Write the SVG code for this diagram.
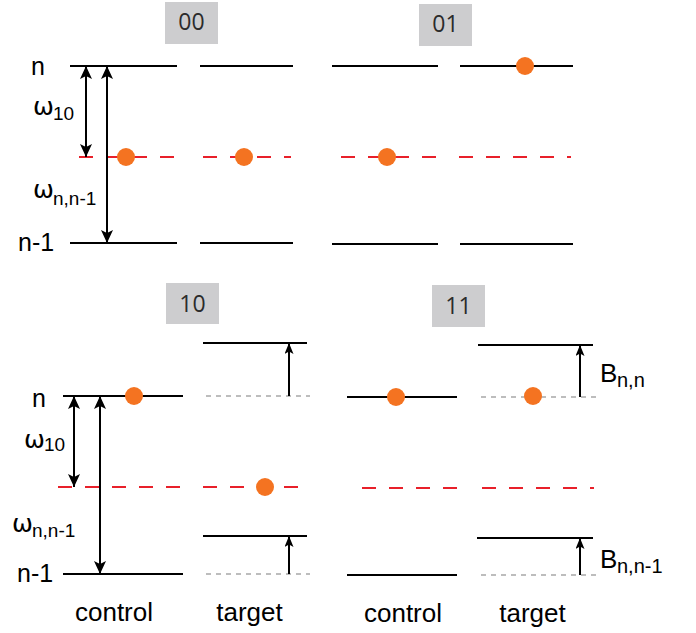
<svg xmlns="http://www.w3.org/2000/svg" width="696" height="633" viewBox="0 0 696 633">
<style>
.lvl{stroke:#000;stroke-width:2;fill:none}
.red{stroke:#e8202a;stroke-width:2;stroke-dasharray:14 13;fill:none}
.gray{stroke:#a8a8a8;stroke-width:1.5;stroke-dasharray:5 5;fill:none}
.dot{fill:#f47321}
.box{fill:#cdcdcf}
.boxt{font-family:"Open Sans","Liberation Sans",sans-serif;font-size:23px;fill:#2b2b2b;text-anchor:middle}
.lab{font-family:"Liberation Sans",Arial,sans-serif;font-size:25px;fill:#000}
.cap{font-family:"Liberation Sans",Arial,sans-serif;font-size:26px;fill:#000;text-anchor:middle}
.om{font-family:"DejaVu Sans","Liberation Sans",sans-serif;font-size:25px;fill:#000}
.sub{font-family:"Liberation Sans",Arial,sans-serif;font-size:19px;fill:#000}
.bsub{font-family:"Liberation Sans",Arial,sans-serif;font-size:20px;fill:#000}
.arr{stroke:#000;stroke-width:2;fill:none;marker-start:url(#ah);marker-end:url(#ah)}
.arr1{stroke:#000;stroke-width:2;fill:none;marker-end:url(#ahs)}
</style>
<defs>
<marker id="ah" viewBox="0 0 13 12" refX="13" refY="6" markerWidth="13" markerHeight="12" markerUnits="userSpaceOnUse" orient="auto-start-reverse">
<path d="M0,0 L13,6 L0,12 L3,6 z" fill="#000"/>
</marker>
<marker id="ahs" viewBox="0 0 11 9" refX="11" refY="4.5" markerWidth="11" markerHeight="9" markerUnits="userSpaceOnUse" orient="auto">
<path d="M0,0 L11,4.5 L0,9 L2.5,4.5 z" fill="#000"/>
</marker>
</defs>

<g id="panel-00">
<rect class="box" x="165" y="2" width="53" height="42"/>
<text class="boxt" x="191.5" y="30">00</text>
<text class="lab" x="31" y="75">n</text>
<text class="lab" x="18" y="251">n-1</text>
<line class="lvl" x1="70" y1="66" x2="177" y2="66"/>
<line class="lvl" x1="200" y1="66" x2="293" y2="66"/>
<line class="lvl" x1="70" y1="243" x2="177" y2="243"/>
<line class="lvl" x1="200" y1="243" x2="293" y2="243"/>
<line class="red" x1="79" y1="157" x2="177" y2="157"/>
<line class="red" x1="203" y1="157" x2="291" y2="157"/>
<circle class="dot" cx="126" cy="157" r="9"/>
<circle class="dot" cx="244" cy="157" r="9"/>
<text class="om" x="33" y="115">ω</text><text class="sub" x="53" y="120">10</text>
<text class="om" x="33" y="198">ω</text><text class="sub" x="53" y="205">n,n-1</text>
</g>

<g id="panel-01">
<rect class="box" x="419" y="4" width="53" height="42"/>
<text class="boxt" x="445.5" y="32">01</text>
<line class="lvl" x1="332" y1="66" x2="438" y2="66"/>
<line class="lvl" x1="460" y1="66" x2="573" y2="66"/>
<line class="lvl" x1="332" y1="244" x2="438" y2="244"/>
<line class="lvl" x1="460" y1="244" x2="573" y2="244"/>
<line class="red" x1="341" y1="157" x2="437" y2="157"/>
<line class="red" x1="459" y1="157" x2="571" y2="157"/>
<circle class="dot" cx="525" cy="66" r="9"/>
<circle class="dot" cx="387" cy="157" r="9"/>
</g>

<g id="panel-10">
<rect class="box" x="166" y="283" width="53" height="41"/>
<text class="boxt" x="192.5" y="312">10</text>
<text class="lab" x="32" y="407">n</text>
<text class="lab" x="17" y="582">n-1</text>
<line class="lvl" x1="63" y1="396" x2="183" y2="396"/>
<line class="lvl" x1="63" y1="574" x2="183" y2="574"/>
<line class="red" x1="58" y1="487" x2="180" y2="487"/>
<line class="red" x1="203" y1="487" x2="308" y2="487"/>
<line class="lvl" x1="203" y1="343" x2="307" y2="343"/>
<line class="gray" x1="206" y1="396" x2="310" y2="396"/>
<line class="lvl" x1="203" y1="536" x2="307" y2="536"/>
<line class="gray" x1="206" y1="574" x2="310" y2="574"/>
<circle class="dot" cx="134" cy="396" r="9"/>
<circle class="dot" cx="265" cy="487" r="9"/>
<text class="om" x="24" y="448">ω</text><text class="sub" x="44" y="451">10</text>
<text class="om" x="12" y="532">ω</text><text class="sub" x="32" y="537">n,n-1</text>
<text class="cap" x="114" y="621">control</text>
<text class="cap" x="249.5" y="621">target</text>
</g>

<g id="panel-11">
<rect class="box" x="432" y="285" width="53" height="42"/>
<text class="boxt" x="458.5" y="314">11</text>
<line class="lvl" x1="347" y1="397" x2="457" y2="397"/>
<line class="lvl" x1="347" y1="575" x2="457" y2="575"/>
<line class="red" x1="362" y1="488" x2="457" y2="488"/>
<line class="red" x1="482" y1="488" x2="594" y2="488"/>
<line class="lvl" x1="478" y1="345" x2="593" y2="345"/>
<line class="gray" x1="481" y1="397" x2="597" y2="397"/>
<line class="lvl" x1="477" y1="538" x2="593" y2="538"/>
<line class="gray" x1="481" y1="575" x2="597" y2="575"/>
<circle class="dot" cx="396" cy="397" r="9"/>
<circle class="dot" cx="533" cy="396" r="9"/>
<text class="lab" x="600" y="382" style="font-size:26px">B</text><text class="bsub" x="617" y="387">n,n</text>
<text class="lab" x="600" y="568" style="font-size:26px">B</text><text class="bsub" x="617" y="573">n,n-1</text>
<text class="cap" x="403" y="622">control</text>
<text class="cap" x="532.5" y="622">target</text>
</g>

<g id="connectors">
<line class="arr" x1="86" y1="66" x2="86" y2="157"/>
<line class="arr" x1="107" y1="66" x2="107" y2="243"/>
<line class="arr" x1="74" y1="396" x2="74" y2="487"/>
<line class="arr" x1="100" y1="396" x2="100" y2="574"/>
<line class="arr1" x1="289" y1="396" x2="289" y2="343"/>
<line class="arr1" x1="289" y1="574" x2="289" y2="536"/>
<line class="arr1" x1="580" y1="397" x2="580" y2="345"/>
<line class="arr1" x1="580" y1="575" x2="580" y2="538"/>
</g>
</svg>
